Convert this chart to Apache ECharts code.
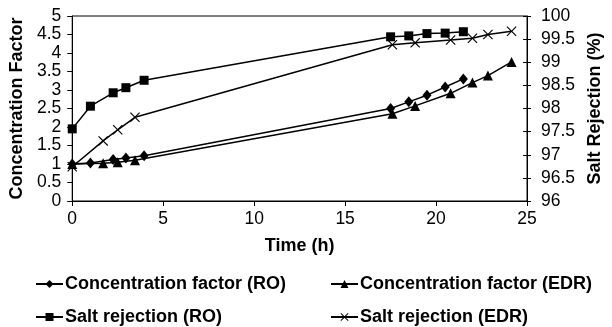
<!DOCTYPE html>
<html>
<head>
<meta charset="utf-8">
<script src="https://cdn.jsdelivr.net/npm/echarts@6/dist/echarts.min.js"></script>
<style>
html,body{margin:0;padding:0;background:#fff;}
#chart{width:612px;height:327px;}
</style>
</head>
<body>
<div id="chart"></div>
<script>
var timeRO = [0, 1, 2.25, 2.95, 3.95, 17.5, 18.5, 19.5, 20.5, 21.5];
var timeEDR = [0, 1.7, 2.5, 3.45, 17.6, 18.85, 20.8, 22, 22.85, 24.15];
var cfRO = [1.0, 1.03, 1.12, 1.16, 1.22, 2.5, 2.68, 2.86, 3.08, 3.3];
var cfEDR = [1.0, 1.02, 1.05, 1.1, 2.36, 2.57, 2.91, 3.2, 3.39, 3.76];
var srRO = [97.56, 98.05, 98.34, 98.45, 98.61, 99.55, 99.57, 99.62, 99.63, 99.66];
var srEDR = [96.74, 97.30, 97.54, 97.81, 99.38, 99.42, 99.48, 99.52, 99.60, 99.67];
var names = ['Concentration factor (RO)', 'Concentration factor (EDR)', 'Salt rejection (RO)', 'Salt rejection (EDR)'];

function pairs(xs, ys) { return xs.map(function (x, i) { return [x, ys[i]]; }); }

var FONT = 'Liberation Sans, Arial, sans-serif';
var crossPath = 'path://M0,0.8L0.8,0L5,4.2L9.2,0L10,0.8L5.8,5L10,9.2L9.2,10L5,5.8L0.8,10L0,9.2L4.2,5Z';

function mkSeries(name, data, symbol, size, yIdx) {
  return {
    name: name, type: 'line', data: data, yAxisIndex: yIdx,
    symbol: symbol, symbolSize: size, showSymbol: true,
    lineStyle: { color: '#000', width: 1.5 },
    itemStyle: { color: '#000', borderWidth: 0 },
    emphasis: { disabled: true }, animation: false, z: 3
  };
}

function mkLegend(name, left, top) {
  return {
    data: [name], left: left, top: top, itemWidth: 27, itemHeight: 10, itemGap: 0,
    textStyle: { fontFamily: FONT, fontSize: 18, fontWeight: 'bold', color: '#000', padding: [0, 0, 0, -3] },
    selectedMode: false
  };
}

var chart = echarts.init(document.getElementById('chart'), null, { renderer: 'canvas' });
chart.setOption({
  backgroundColor: '#fff',
  animation: false,
  grid: { left: 66.7, right: 76, top: 16, bottom: 126, show: true, borderColor: '#000', borderWidth: 1 },
  legend: [
    mkLegend(names[0], 30, 270),
    mkLegend(names[1], 325, 270),
    mkLegend(names[2], 30, 303),
    mkLegend(names[3], 325, 303)
  ],
  xAxis: {
    type: 'value', min: 0, max: 25, interval: 5,
    name: 'Time (h)', nameLocation: 'middle', nameGap: 36,
    nameTextStyle: { fontFamily: FONT, fontSize: 18, fontWeight: 'bold', color: '#000' },
    axisLine: { lineStyle: { color: '#000', width: 1 } },
    axisTick: { show: true, length: 5, lineStyle: { color: '#000' } },
    axisLabel: { fontFamily: FONT, fontSize: 17.5, color: '#000', margin: 9 },
    splitLine: { show: false }
  },
  yAxis: [
    {
      type: 'value', min: 0, max: 5, interval: 0.5, position: 'left',
      name: 'Concentration Factor', nameLocation: 'middle', nameGap: 44, nameRotate: 90,
      nameTextStyle: { fontFamily: FONT, fontSize: 18, fontWeight: 'bold', color: '#000' },
      axisLine: { show: true, lineStyle: { color: '#000', width: 1 } },
      axisTick: { show: true, length: 5, lineStyle: { color: '#000' } },
      axisLabel: { fontFamily: FONT, fontSize: 17.5, color: '#000', margin: 11 },
      splitLine: { show: false }
    },
    {
      type: 'value', min: 96, max: 100, interval: 0.5, position: 'right',
      name: 'Salt Rejection (%)', nameLocation: 'middle', nameGap: 57, nameRotate: 90,
      nameTextStyle: { fontFamily: FONT, fontSize: 18, fontWeight: 'bold', color: '#000' },
      axisLine: { show: true, lineStyle: { color: '#000', width: 1 } },
      axisTick: { show: true, length: 4, lineStyle: { color: '#000' } },
      axisLabel: { fontFamily: FONT, fontSize: 17.5, color: '#000', margin: 14 },
      splitLine: { show: false }
    },
    {
      type: 'value', min: 96, max: 100, interval: 0.5, position: 'right',
      axisLine: { show: false },
      axisTick: { show: true, inside: true, length: 4, lineStyle: { color: '#000' } },
      axisLabel: { show: false },
      splitLine: { show: false }
    }
  ],
  series: [
    mkSeries(names[0], pairs(timeRO, cfRO), 'diamond', [9, 11], 0),
    mkSeries(names[1], pairs(timeEDR, cfEDR), 'triangle', 10, 0),
    mkSeries(names[2], pairs(timeRO, srRO), 'rect', 9, 1),
    mkSeries(names[3], pairs(timeEDR, srEDR), crossPath, 10, 1)
  ]
});
</script>
</body>
</html>
